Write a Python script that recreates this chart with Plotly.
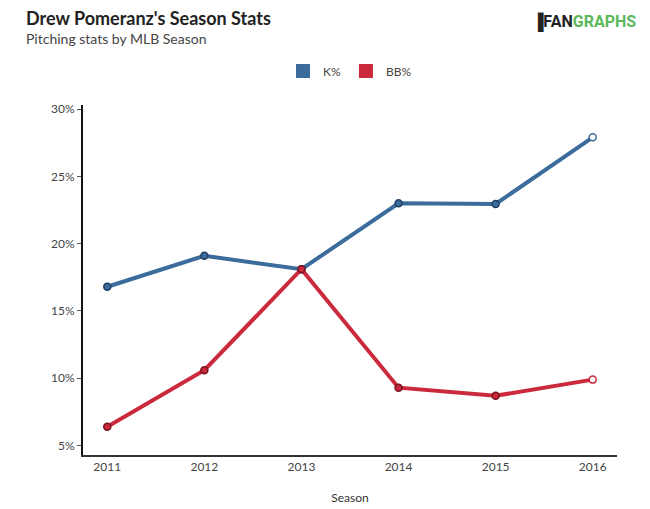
import plotly.graph_objects as go

seasons = [2011, 2012, 2013, 2014, 2015, 2016]
k_pct = [16.8, 19.1, 18.1, 23.0, 22.95, 27.9]
bb_pct = [6.4, 10.6, 18.1, 9.3, 8.7, 9.9]
y_ticks = [5, 10, 15, 20, 25, 30]
y_labels = ["5%", "10%", "15%", "20%", "25%", "30%"]

BLUE = "#3b6c9c"
RED = "#cb2a3c"


def marker_fill(color, n):
    # last season drawn hollow
    return [color] * (n - 1) + ["white"]


def build_fig():
    fig = go.Figure()
    series = [("K%", k_pct, BLUE, "#1f3f63"), ("BB%", bb_pct, RED, "#7a1420")]
    for name, vals, color, edge in series:
        fig.add_trace(go.Scatter(
            x=seasons, y=vals, mode="lines+markers", name=name,
            showlegend=False,
            line=dict(color=color, width=4),
            marker=dict(size=7, color=marker_fill(color, len(vals)),
                        line=dict(color=[edge] * (len(vals) - 1) + [color], width=1.5)),
        ))
    # legend swatches
    for name, vals, color, edge in series:
        fig.add_trace(go.Scatter(
            x=[None], y=[None], mode="markers", name=name,
            marker=dict(symbol="square", size=14, color=color),
        ))
    return fig


def customize_layout(fig):
    fig.update_layout(
        width=650, height=509,
        margin=dict(l=75, r=41, t=97, b=62),
        paper_bgcolor="white", plot_bgcolor="white",
        font=dict(family="Lato, Open Sans, sans-serif", color="#444", size=12),
        legend=dict(orientation="h", x=0.5, xanchor="center", y=1.097, yanchor="middle",
                    font=dict(size=12, color="#444"), itemwidth=30, traceorder="normal"),
        xaxis=dict(
            range=[2010.75, 2016.25], tickvals=seasons, showgrid=False, zeroline=False,
            showline=True, linecolor="#333", linewidth=1.5, ticks="",
            title=dict(text="Season", font=dict(size=12, color="#333"), standoff=20),
            tickfont=dict(size=12, color="#444"),
        ),
        yaxis=dict(
            range=[4.3, 30.3], tickvals=y_ticks, ticktext=y_labels, showgrid=False,
            zeroline=False, showline=True, linecolor="#111", linewidth=2,
            ticks="outside", ticklen=4, tickcolor="#555",
            tickfont=dict(size=12, color="#444"),
        ),
        annotations=[
            dict(text="<b>Drew Pomeranz's Season Stats</b>",
                 xref="paper", yref="paper", x=-0.11, y=1.249, xanchor="left", yanchor="middle",
                 showarrow=False, font=dict(size=18, color="#222")),
            dict(text="Pitching stats by MLB Season",
                 xref="paper", yref="paper", x=-0.11, y=1.191, xanchor="left", yanchor="middle",
                 showarrow=False, font=dict(size=14, color="#444")),
            dict(text="<b><span style='color:#222'>\u2590FAN</span>"
                      "<span style='color:#5cb85c'>GRAPHS</span></b>",
                 xref="paper", yref="paper", x=1.04, y=1.237, xanchor="right", yanchor="middle",
                 showarrow=False, font=dict(size=16, family="Roboto, Arial, sans-serif")),
        ],
    )
    return fig


fig = build_fig()
fig = customize_layout(fig)
fig.write_html("out.html")
